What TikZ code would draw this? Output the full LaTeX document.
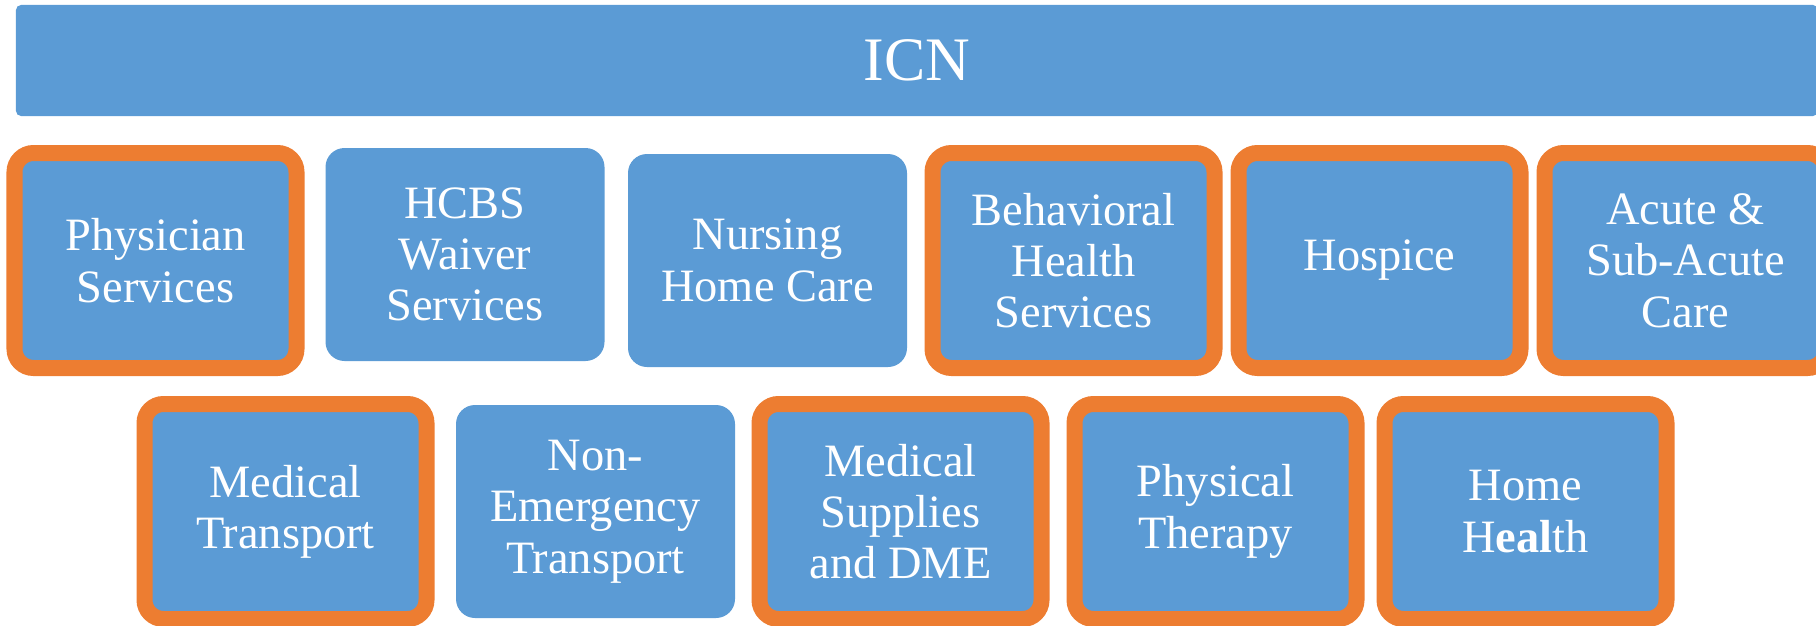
\documentclass[tikz,border=0pt]{standalone}
\usepackage{fontspec}
\setmainfont{Liberation Serif}
\usetikzlibrary{positioning}
\definecolor{icnblue}{HTML}{5B9BD5}
\definecolor{icnorange}{HTML}{ED7D31}

\begin{document}
\begin{tikzpicture}[node distance=6.12cm,on grid,
		service/.style={rectangle,rounded corners=0.38cm,fill=icnblue,text=white,align=center,
			minimum width=5.58cm,minimum height=4.26cm,inner sep=0pt,
			font=\fontsize{26.4}{29.2}\selectfont},
		covered/.style={service,draw=icnorange,line width=0.32cm,
			minimum width=5.64cm,minimum height=4.3cm}]
		\useasboundingbox (0,0) rectangle (36.32,-12.5);
		\clip (0,0) rectangle (36.32,-12.5);
		\node[rectangle,rounded corners=0.1cm,fill=icnblue,text=white,
			minimum width=36.04cm,minimum height=2.22cm,
			font=\fontsize{35.2}{42}\selectfont] (icn) at (18.34,-1.21) {ICN};
		% first row
		\node[covered] (phys) at (3.11,-5.21) {Physician\\Services};
		\node[service] (hcbs) [right=of phys,xshift=0.07cm,yshift=0.12cm] {HCBS\\Waiver\\Services};
		\node[service] (nursing) [right=12.24cm of phys] {Nursing\\Home Care};
		\node[covered] (behav) [right=of nursing] {Behavioral\\Health\\Services};
		\node[covered] (hospice) [right=of behav] {Hospice};
		\node[covered] (acute) [right=of hospice] {Acute \&\\Sub-Acute\\Care};
		% second row
		\node[covered] (medtrans) at (5.71,-10.23) {Medical\\Transport};
		\node[service] (nemt) [right=6.2cm of medtrans] {Non-\\Emergency\\Transport};
		\node[covered] (dme) [right=6.2cm of nemt,xshift=-0.1cm] {Medical\\Supplies\\and DME};
		\node[covered] (therapy) [right=18.6cm of medtrans] {Physical\\Therapy};
		\node[covered] (homehealth) [right=6.2cm of therapy] {Home\\H\textbf{eal}th};
	\end{tikzpicture}
\end{document}
